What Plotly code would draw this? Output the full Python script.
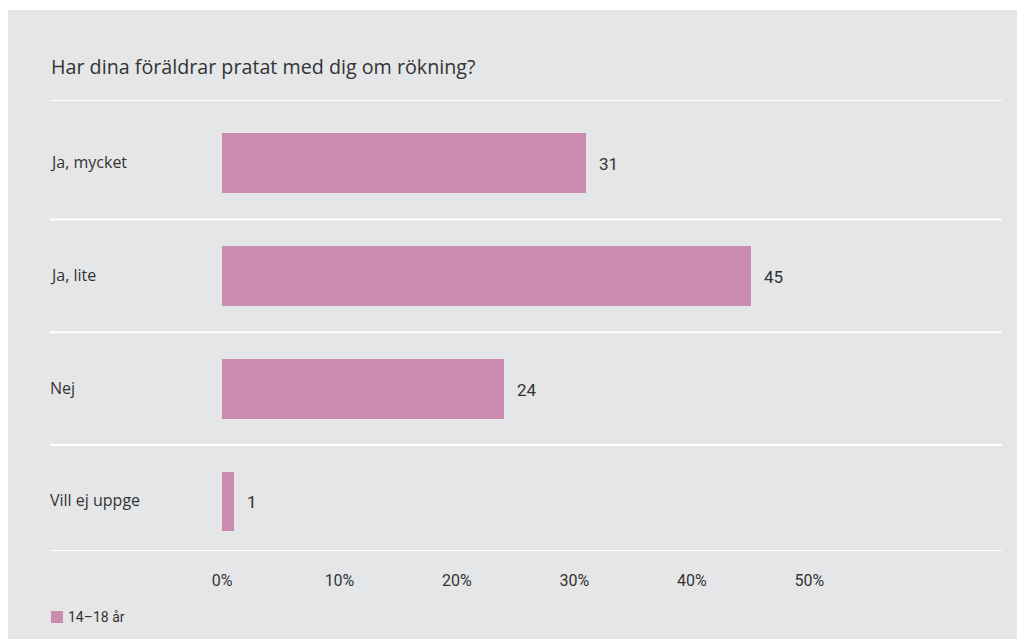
import plotly.graph_objects as go

categories = ["Ja, mycket", "Ja, lite", "Nej", "Vill ej uppge"]
values = [31, 45, 24, 1]
series_name = "14–18 år"
title = "Har dina föräldrar pratat med dig om rökning?"
tick_vals = [0, 10, 20, 30, 40, 50]
tick_text = ["0%", "10%", "20%", "30%", "40%", "50%"]

W, H = 1017, 639
L, R, T, B = 222, 15, 100, 88
plot_w = W - L - R
plot_h = H - T - B

def px_x(px):
    return (px - L) / plot_w

def px_y(py):
    return 1 - (py - T) / plot_h

BAR = "#cb8daf"
BG = "#e5e6e8"
TXT = "#333333"
FONT = "Open Sans"

pos = list(range(len(categories)))

fig = go.Figure()
fig.add_trace(go.Bar(
    x=values, y=pos, orientation="h", marker=dict(color=BAR, line=dict(width=0)),
    width=0.53, name=series_name, showlegend=False, hoverinfo="skip",
))

shapes = [
    dict(type="rect", xref="paper", yref="paper", x0=px_x(8), x1=px_x(1017),
         y0=px_y(10), y1=px_y(640), fillcolor=BG, line=dict(width=0), layer="below"),
]
for yv in [-0.56, 0.5, 1.5, 2.5, 3.44]:
    shapes.append(dict(type="line", xref="paper", yref="y", x0=px_x(50), x1=px_x(1002),
                       y0=yv, y1=yv, line=dict(color="white", width=2), layer="below"))
# legend swatch
shapes.append(dict(type="rect", xref="paper", yref="paper", x0=px_x(51), x1=px_x(63),
                   y0=px_y(611), y1=px_y(623), fillcolor=BAR, line=dict(width=0)))

annotations = []
for c, p in zip(categories, pos):
    annotations.append(dict(x=px_x(48), xref="paper", y=p, yref="y", text=c,
                            showarrow=False, xanchor="left", yanchor="middle", yshift=1,
                            font=dict(family=FONT, size=16, color=TXT)))
for v, p in zip(values, pos):
    annotations.append(dict(x=v, xref="x", y=p, yref="y", text=str(v),
                            showarrow=False, xanchor="left", yanchor="middle", xshift=11,
                            yshift=-1,
                            font=dict(family="Roboto", size=17, color=TXT)))
annotations.append(dict(x=px_x(49), xref="paper", y=px_y(67), yref="paper", text=title,
                        showarrow=False, xanchor="left", yanchor="middle",
                        font=dict(family=FONT, size=19.7, color=TXT)))
annotations.append(dict(x=px_x(66), xref="paper", y=px_y(617), yref="paper", text=series_name,
                        showarrow=False, xanchor="left", yanchor="middle",
                        font=dict(family="Roboto", size=14, color=TXT)))

fig.update_layout(
    width=W, height=H,
    margin=dict(l=L, r=R, t=T, b=B),
    paper_bgcolor="white",
    plot_bgcolor="rgba(0,0,0,0)",
    showlegend=False,
    shapes=shapes,
    annotations=annotations,
    xaxis=dict(range=[0, 66.4], tickvals=tick_vals, ticktext=tick_text,
               showgrid=False, zeroline=False, showline=False, ticks="",
               tickfont=dict(family="Roboto", size=16, color=TXT), ticklabelstandoff=18),
    yaxis=dict(range=[3.44, -0.56], showticklabels=False, showgrid=False,
               zeroline=False, showline=False, ticks=""),
    bargap=0,
)

fig.write_html("out.html")
